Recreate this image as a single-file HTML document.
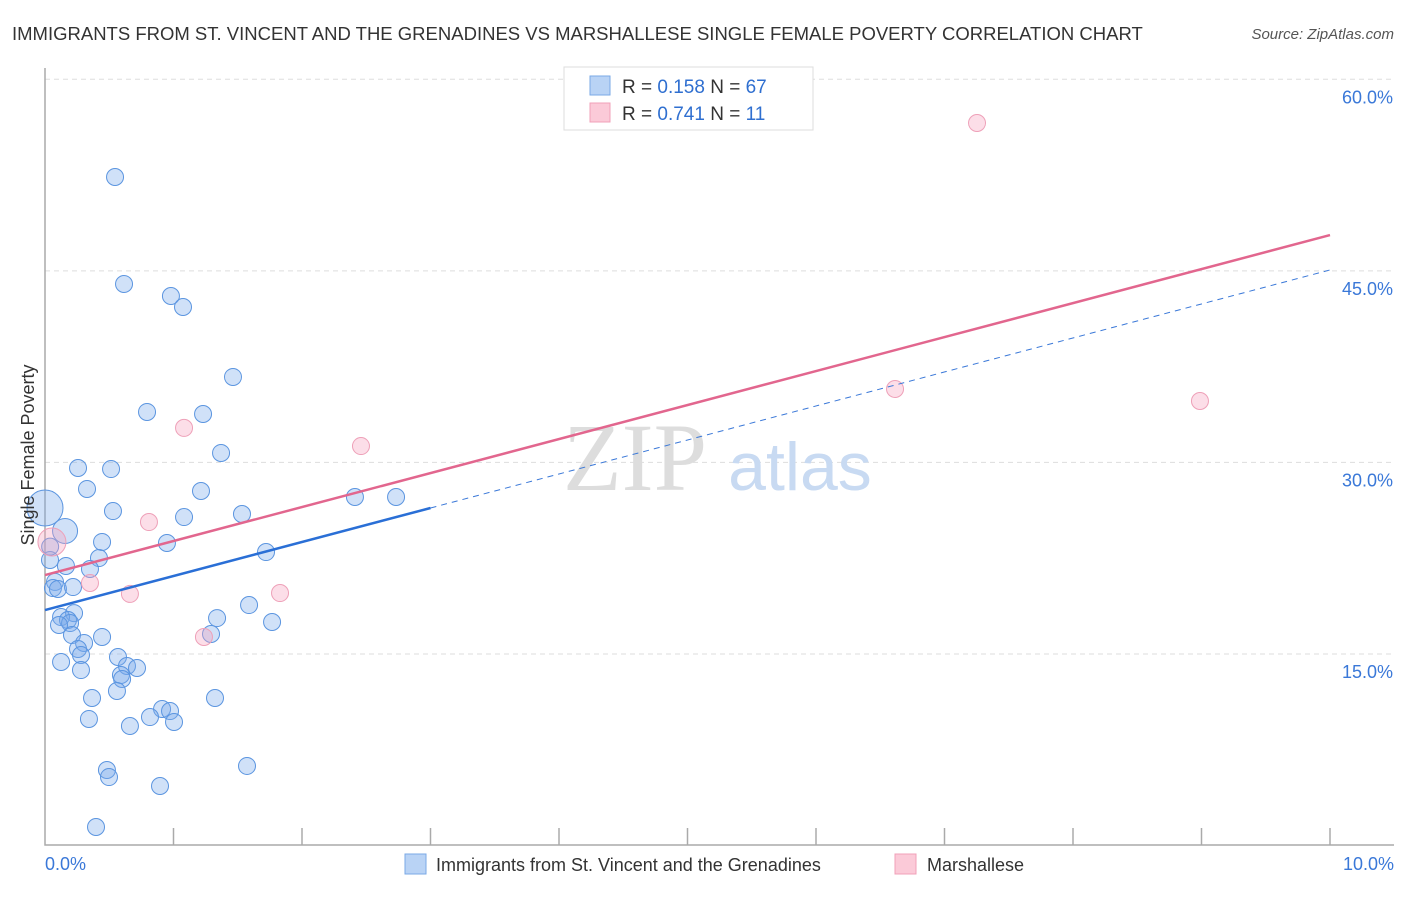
<!DOCTYPE html>
<html><head><meta charset="utf-8"><style>
body{margin:0;background:#fff;font-family:"Liberation Sans",sans-serif}
</style></head><body>
<svg width="1406" height="892" xmlns="http://www.w3.org/2000/svg" font-family="Liberation Sans, sans-serif">
<text x="12" y="40" font-size="18.5" fill="#333">IMMIGRANTS FROM ST. VINCENT AND THE GRENADINES VS MARSHALLESE SINGLE FEMALE POVERTY CORRELATION CHART</text>
<text x="1394" y="39" font-size="15" fill="#555" font-style="italic" text-anchor="end">Source: ZipAtlas.com</text>
<g id="grid"></g>
<text x="635" y="490" font-size="96" fill="#ddd" text-anchor="middle" font-family="Liberation Serif, serif">ZIP</text>
<text x="800" y="490" font-size="68" fill="#c8daf2" text-anchor="middle">atlas</text>
<g id="axes"></g>
<g id="marks"></g>
<text transform="translate(34,455) rotate(-90)" font-size="18" fill="#333" text-anchor="middle">Single Female Poverty</text>
<text x="45" y="870" font-size="18" fill="#3a78d8">0.0%</text>
<text x="1394" y="870" font-size="18" fill="#3a78d8" text-anchor="end">10.0%</text>
<g>
<rect x="564" y="67" width="249" height="63" fill="#fff" stroke="#ddd"/>
<rect x="590" y="76" width="20" height="19" fill="#b9d3f5" stroke="#7aa8e6"/>
<rect x="590" y="103" width="20" height="19" fill="#fbcad8" stroke="#f0a0b8"/>
<text x="622" y="93" font-size="19" fill="#333">R = <tspan fill="#2f6fd0">0.158</tspan>   N = <tspan fill="#2f6fd0">67</tspan></text>
<text x="622" y="120" font-size="19" fill="#333">R = <tspan fill="#2f6fd0">0.741</tspan>   N =  <tspan fill="#2f6fd0">11</tspan></text>
</g>
<g>
<rect x="405" y="854" width="21" height="20" fill="#b9d3f5" stroke="#7aa8e6"/>
<text x="436" y="871" font-size="18" fill="#333">Immigrants from St. Vincent and the Grenadines</text>
<rect x="895" y="854" width="21" height="20" fill="#fbcad8" stroke="#f0a0b8"/>
<text x="927" y="871" font-size="18" fill="#333">Marshallese</text>
</g>
</svg>
<script>
const yTicks=[15,30,45,60];
const yTickLabels=["15.0%","30.0%","45.0%","60.0%"];
const blueX=[0.545,0.615,0.98,1.074,1.463,0.794,1.23,1.37,0.257,0.514,0.327,1.214,0.529,1.082,1.533,2.412,2.732,0.444,0.949,0.42,1.72,0.039,0.35,0.163,0.078,0.062,0.101,0.218,1.588,0.226,0.125,0.179,0.195,1.339,1.767,0.109,0.21,0.444,1.292,0.304,0.257,0.28,0.125,0.568,0.638,0.716,0.591,0.6,0.28,0.56,0.366,1.323,0.911,0.973,0.817,1.004,0.342,0.661,0.482,0.498,0.895,1.572,0.397,0,0.156,0.04];
const blueY=[52.35,43.97,43.03,42.17,36.69,33.95,33.79,30.74,29.56,29.48,27.92,27.76,26.19,25.72,25.96,27.29,27.29,23.77,23.69,22.51,22.98,22.36,21.65,21.89,20.64,20.16,20.09,20.24,18.83,18.2,17.89,17.66,17.42,17.81,17.5,17.27,16.48,16.33,16.56,15.86,15.39,14.92,14.37,14.76,14.06,13.9,13.35,13.04,13.74,12.1,11.55,11.55,10.69,10.53,10.06,9.67,9.91,9.36,5.91,5.36,4.66,6.23,1.45,26.43,24.63,23.4];
const blueR=blueX.map((_,i)=>i===63?18:i===64?12.5:8.5);
const pinkX=[7.253,6.615,8.988,1.082,2.459,0.809,0.054,0.35,0.661,1.829,1.237];
const pinkY=[56.58,35.75,34.81,32.7,31.28,25.33,23.77,20.56,19.7,19.77,16.33];
const pinkR=pinkX.map((_,i)=>i===6?14:8.5);
const blueTrend=[18.44,45.07]; // value at x=0 and x=10
const pinkTrend=[21.18,47.8];
const blueSolidEnd=3.0;
const NS="http://www.w3.org/2000/svg";
const X=v=>45+v*128.5, Y=v=>845.5-v*12.77;
function mk(t,a,p){const e=document.createElementNS(NS,t);for(const k in a)e.setAttribute(k,a[k]);p.appendChild(e);return e;}
const grid=document.getElementById('grid'),axes=document.getElementById('axes'),marks=document.getElementById('marks');
yTicks.forEach((v,i)=>{
 const l=mk('line',{x1:45,x2:1394,y1:Y(v),y2:Y(v),stroke:'#ddd','stroke-dasharray':'5,4'},grid);
 
 
 const t=mk('text',{x:1393,y:Y(v)+24,'font-size':18,fill:'#3a78d8','text-anchor':'end'},grid);
 t.textContent=yTickLabels[i];
 
 
});
const ax=mk('path',{d:`M45 68V845H1394`,stroke:'#aaa',fill:'none','stroke-width':1.5},axes);


for(let k=1;k<=10;k++){
 const t=mk('line',{x1:X(k),x2:X(k),y1:828,y2:845,stroke:'#aaa','stroke-width':1.5},axes);
 
 
}
blueX.forEach((x,i)=>{
 const c=mk('circle',{cx:X(x),cy:Y(blueY[i]),r:blueR[i],fill:'rgba(120,170,235,0.35)',stroke:'#5b95e0','stroke-width':1},marks);
 
 
});
pinkX.forEach((x,i)=>{
 const c=mk('circle',{cx:X(x),cy:Y(pinkY[i]),r:pinkR[i],fill:'rgba(245,160,190,0.35)',stroke:'#eea0b8','stroke-width':1},marks);
 
 
});
const bAt=x=>blueTrend[0]+(blueTrend[1]-blueTrend[0])*x/10;
const pAt=x=>pinkTrend[0]+(pinkTrend[1]-pinkTrend[0])*x/10;
const bd=mk('line',{x1:X(blueSolidEnd),y1:Y(bAt(blueSolidEnd)),x2:X(10),y2:Y(bAt(10)),stroke:'#3a78d8','stroke-width':1,'stroke-dasharray':'6,5'},marks);


const pl=mk('line',{x1:X(0),y1:Y(pAt(0)),x2:X(10),y2:Y(pAt(10)),stroke:'#e2668e','stroke-width':2.5},marks);


const bl=mk('line',{x1:X(0),y1:Y(bAt(0)),x2:X(blueSolidEnd),y2:Y(bAt(blueSolidEnd)),stroke:'#2a6fd6','stroke-width':2.5},marks);


</script>
</body></html>
